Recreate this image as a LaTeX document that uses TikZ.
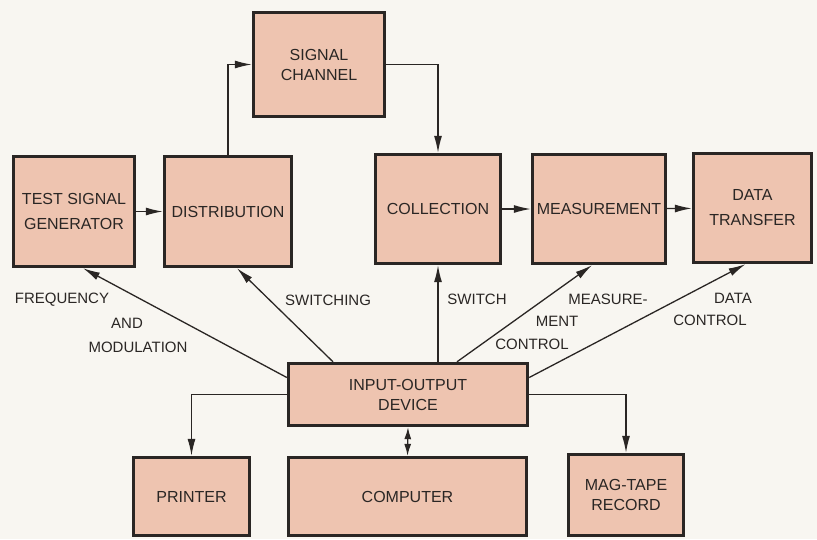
\documentclass[tikz,border=0pt]{standalone}
\usepackage{fontspec}
\setmainfont{Liberation Sans}
\usetikzlibrary{arrows.meta}

\definecolor{boxfill}{HTML}{EEC4B0}
\definecolor{paper}{HTML}{F8F6F1}
\definecolor{ink}{HTML}{2A2624}

\tikzset{
  blok/.style={draw=ink, line width=3.4pt, fill=boxfill, text=ink,
    align=center, inner sep=2pt, font=\fontsize{16}{20}\selectfont},
  conn/.style={draw=ink, line width=1.3pt, -{Latex[length=17pt,width=8pt]}},
  lbl/.style={text=ink, inner sep=0pt, font=\fontsize{15}{18}\selectfont}
}

\begin{document}
\begin{tikzpicture}[x=1pt, y=-1pt]
    \useasboundingbox[fill=paper] (0,0) rectangle (817,539);
    % Upper row
    \node[blok, minimum width=131pt, minimum height=104pt] (chan) at (319,64.5) {SIGNAL\\CHANNEL};
    \node[blok, minimum width=121pt, minimum height=110pt] (tsg) at (74,211.5) {TEST SIGNAL\\[5pt]GENERATOR};
    \node[blok, minimum width=127pt, minimum height=110pt] (dist) at (228,211.5) {DISTRIBUTION};
    \node[blok, minimum width=125pt, minimum height=109pt] (coll) at (438,209) {COLLECTION};
    \node[blok, minimum width=133pt, minimum height=109pt] (meas) at (599,209) {MEASUREMENT};
    \node[blok, minimum width=118pt, minimum height=109pt] (xfer) at (752.5,208) {DATA\\[5pt]TRANSFER};
    % Lower row
    \node[blok, minimum width=239pt, minimum height=62pt] (io) at (408,394.5) {INPUT-OUTPUT\\DEVICE};
    \node[blok, minimum width=116pt, minimum height=78pt] (prn) at (191.5,496.5) {PRINTER};
    \node[blok, minimum width=238pt, minimum height=78pt] (comp) at (407.5,496.5) {COMPUTER};
    \node[blok, minimum width=115pt, minimum height=81pt] (tape) at (626,495) {MAG-TAPE\\RECORD};
    % Signal path
    \draw[conn] (tsg) -- (dist);
    \draw[conn] (dist.north) |- (chan.west);
    \draw[conn] (chan.east) -| (coll.north);
    \draw[conn] (coll) -- (meas);
    \draw[conn] (meas) -- (xfer);
    % Control lines
    \draw[conn] ([yshift=17pt]io.west) -- ([xshift=9pt]tsg.south);
    \draw[conn] ([xshift=-75pt]io.north) -- ([xshift=9pt]dist.south);
    \draw[conn] (coll.south |- io.north) -- (coll.south);
    \draw[conn] ([xshift=49pt]io.north) -- ([xshift=-7pt]meas.south);
    \draw[conn] ([yshift=17pt]io.east) -- ([xshift=-7pt]xfer.south);
    % Outputs
    \draw[conn] (io.west) -| (prn.north);
    \draw[conn] (io.east) -| (tape.north);
    \draw[conn, {Latex[length=12pt,width=7pt]}-{Latex[length=12pt,width=7pt]}] (io.south) -- (comp.north);
    % Labels
    \node[lbl] (lfreq) at (62,300) {FREQUENCY};
    \node[lbl] (land) at (127,323) {AND};
    \node[lbl] (lmod) at (138,347) {MODULATION};
    \node[lbl] (lswg) at (328,300) {SWITCHING};
    \node[lbl] (lsw) at (477,299) {SWITCH};
    \node[lbl] (lmeas) at (608,299) {MEASURE-};
    \node[lbl] (lment) at (557,321) {MENT};
    \node[lbl] (lmctl) at (532,344) {CONTROL};
    \node[lbl] (ldata) at (733,298) {DATA};
    \node[lbl] (ldctl) at (710,320) {CONTROL};
\end{tikzpicture}
\end{document}
